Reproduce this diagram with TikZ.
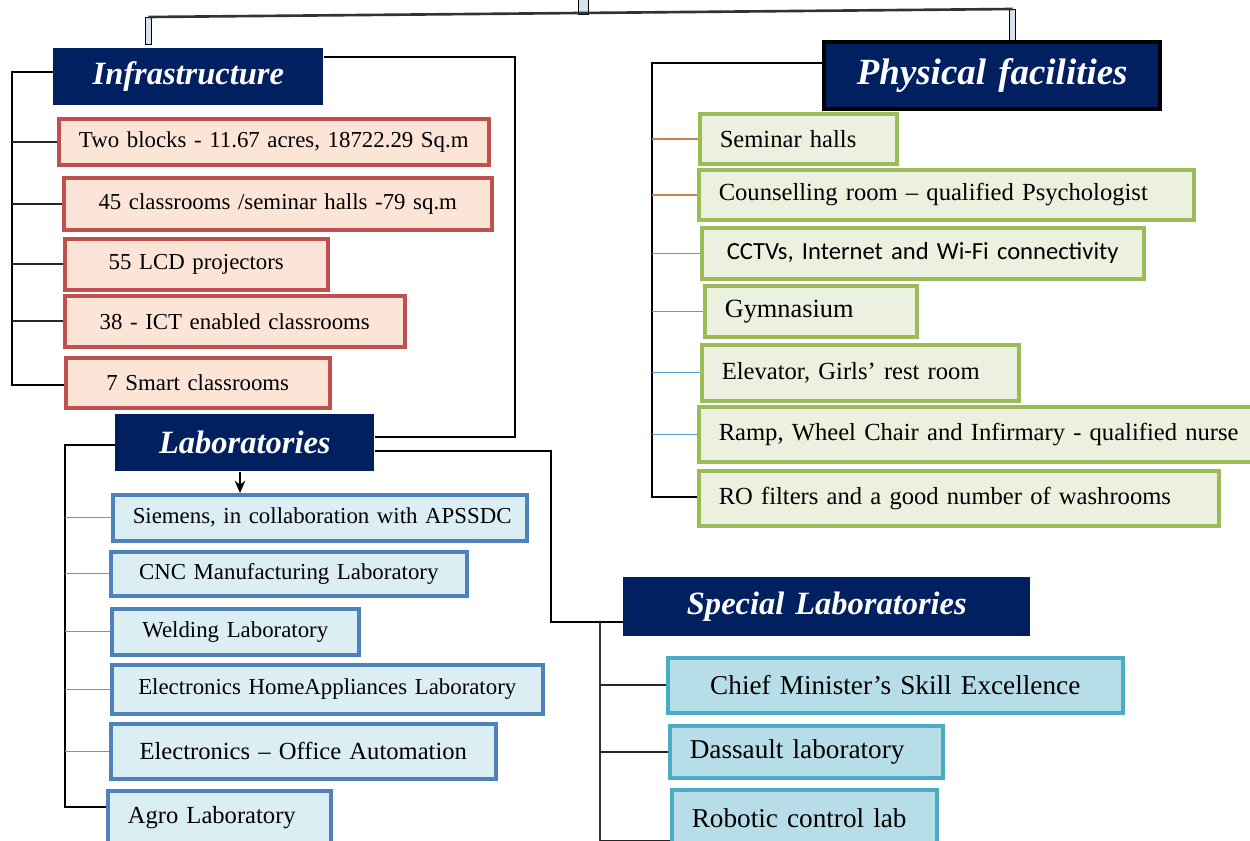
\documentclass[tikz,border=0pt]{standalone}
\usepackage{fontspec}
\setmainfont{Liberation Serif}
\newfontfamily\calibrifont{Carlito}
\usetikzlibrary{arrows.meta}

\definecolor{navy}{RGB}{0,32,96}
\definecolor{infred}{RGB}{192,80,77}
\definecolor{infpeach}{RGB}{252,228,214}
\definecolor{physgreen}{RGB}{155,187,89}
\definecolor{physfill}{RGB}{235,241,222}
\definecolor{labblue}{RGB}{79,129,189}
\definecolor{labfill}{RGB}{219,238,244}
\definecolor{specblue}{RGB}{75,172,198}
\definecolor{specfill}{RGB}{183,222,232}
\definecolor{twigorange}{RGB}{200,130,80}
\definecolor{twigblue}{RGB}{91,155,213}
\definecolor{jointfill}{RGB}{214,226,240}

% box from (x1,y1) to (x2,y2) in pixel units: name, style, x1, y1, x2, y2, text
\newcommand\itembox[7]{%
  \pgfmathsetmacro\bw{(#5-#3)*0.02}%
  \pgfmathsetmacro\bh{(#6-#4)*0.02}%
  \pgfmathsetmacro\tw{(#5-#3)*0.02-0.8}%
  \node[#2, minimum width=\bw cm, minimum height=\bh cm, text width=\tw cm,
        inner xsep=0.4cm, inner ysep=0pt, anchor=north west] (#1) at (#3,#4) {\mbox{#7}};}

\tikzset{
  hdr/.style={fill=navy, text=white, align=center, font=\fontsize{18.5}{20}\selectfont\bfseries\itshape},
  infitem/.style={draw=infred, fill=infpeach, line width=2pt, align=center, font=\fontsize{13}{15}\selectfont},
  physitem/.style={draw=physgreen, fill=physfill, line width=2pt, align=left, font=\fontsize{14}{16}\selectfont},
  labitem/.style={draw=labblue, fill=labfill, line width=2pt, align=center, font=\fontsize{13}{15}\selectfont},
  specitem/.style={draw=specblue, fill=specfill, line width=2pt, align=left, font=\fontsize{15.5}{17}\selectfont},
  joint/.style={draw=black, fill=jointfill, line width=0.8pt, minimum width=0.13cm, inner sep=0pt},
  trunk/.style={draw=black, line width=1.6pt},
  twig/.style={draw=black!85, line width=1pt},
  otwig/.style={draw=twigorange, line width=0.9pt},
  btwig/.style={draw=twigblue, line width=0.8pt},
}

\begin{document}
\begin{tikzpicture}[x=0.02cm,y=-0.02cm]
\useasboundingbox (0,0) rectangle (1250,841);

% top joints and the bar linking them
\node[joint, minimum height=0.54cm, anchor=north] (jl) at (148.5,17) {};
\node[joint, minimum width=0.2cm, minimum height=0.36cm, anchor=south] (jm) at (583.5,15) {};
\node[joint, minimum height=0.62cm, anchor=north] (jr) at (1012.5,9) {};
\draw[draw=black!80, line width=1.5pt] (jl.north) -- (jr.north);

% headers
\itembox{infra}{hdr}{53}{48}{323}{105}{Infrastructure}
\itembox{phys}{hdr, draw=black, line width=2.5pt, font=\fontsize{21}{23}\selectfont\bfseries\itshape}{822}{40}{1158}{107}{Physical facilities}
\itembox{labs}{hdr}{115}{414}{374}{471}{Laboratories}
\itembox{spec}{hdr}{623}{577}{1030}{636}{Special Laboratories}

% infrastructure items
\itembox{i1}{infitem}{57}{117}{487}{163}{Two blocks - 11.67 acres, 18722.29 Sq.m}
\itembox{i2}{infitem}{62}{176}{490}{228}{45 classrooms /seminar halls -79 sq.m}
\itembox{i3}{infitem}{63}{237}{326}{288}{55 LCD projectors}
\itembox{i4}{infitem}{63}{294}{403}{345}{38 - ICT enabled classrooms}
\itembox{i5}{infitem}{64}{356}{328}{406}{7 Smart classrooms}

% physical facilities items
\itembox{p1}{physitem}{698}{112}{895}{162}{Seminar halls}
\itembox{p2}{physitem}{697}{168}{1192}{218}{Counselling room – qualified Psychologist}
\itembox{p3}{physitem, font=\calibrifont\fontsize{14}{16}\selectfont}{700}{226}{1142}{277}{\hspace{0.1cm}CCTVs, Internet and Wi-Fi connectivity}
\itembox{p4}{physitem, font=\fontsize{15}{17}\selectfont}{703}{284}{915}{335}{Gymnasium}
\itembox{p5}{physitem}{700}{343}{1017}{399}{Elevator, Girls’ rest room}
\itembox{p6}{physitem}{697}{405}{1262}{460}{Ramp, Wheel Chair and Infirmary - qualified nurse}
\itembox{p7}{physitem}{697}{469}{1217}{524}{RO filters and a good number of washrooms}

% laboratory items
\itembox{l1}{labitem}{111}{493}{525}{539}{Siemens, in collaboration with APSSDC}
\itembox{l2}{labitem}{109}{550}{465}{594}{CNC Manufacturing Laboratory}
\itembox{l3}{labitem}{110}{607}{357}{653}{Welding Laboratory}
\itembox{l4}{labitem}{110}{663}{541}{712}{Electronics HomeAppliances Laboratory}
\itembox{l5}{labitem, font=\fontsize{14}{16}\selectfont}{109}{722}{494}{777}{Electronics – Office Automation}
\itembox{l6}{labitem, align=left, font=\fontsize{14}{16}\selectfont}{106}{789}{329}{843}{Agro Laboratory}

% special laboratory items
\itembox{s1}{specitem, align=center}{666}{656}{1121}{711}{Chief Minister’s Skill Excellence}
\itembox{s2}{specitem}{668}{724}{941}{776}{Dassault laboratory}
\itembox{s3}{specitem}{670}{788}{935}{844}{Robotic control lab}

% infrastructure bracket
\draw[trunk] (infra.west |- 0,72) -- (12,72) -- (12,385) -- (i5.west |- 0,385);
\foreach \n in {i1,i2,i3,i4} \draw[twig] (12,0 |- \n.west) -- (\n.west);

% infrastructure to laboratories
\draw[trunk] (infra.east |- 0,57) -- (515,57) -- (515,437) -- (labs.east |- 0,437);

% physical facilities bracket
\draw[trunk] (phys.west |- 0,63) -- (652,63) -- (652,497) -- (p7.west |- 0,497);
\foreach \n in {p1,p2} \draw[otwig] (652,0 |- \n.west) -- (\n.west);
\foreach \n in {p3,p4,p5,p6} \draw[btwig] (652,0 |- \n.west) -- (\n.west);

% laboratories bracket and arrow
\draw[trunk] (labs.west |- 0,445) -- (65,445) -- (65,807) -- (l6.west |- 0,807);
\foreach \n in {l1,l2,l3,l4,l5} \draw[btwig] (65,0 |- \n.west) -- (\n.west);
\draw[line width=0.9pt, -{Stealth[length=7pt,width=6pt]}] (labs.south -| 240,0) -- (l1.north -| 240,0);

% laboratories to special laboratories
\draw[trunk] (labs.east |- 0,451) -- (551,451) -- (551,622) -- (spec.west |- 0,622);
\draw[draw=black!80, line width=1.2pt] (600,622) -- (600,850);
\draw[twig] (600,0 |- s1.west) -- (s1.west);
\draw[twig] (600,0 |- s2.west) -- (s2.west);
\draw[twig] (600,841) -- (s3.west |- 0,841);
\end{tikzpicture}
\end{document}
